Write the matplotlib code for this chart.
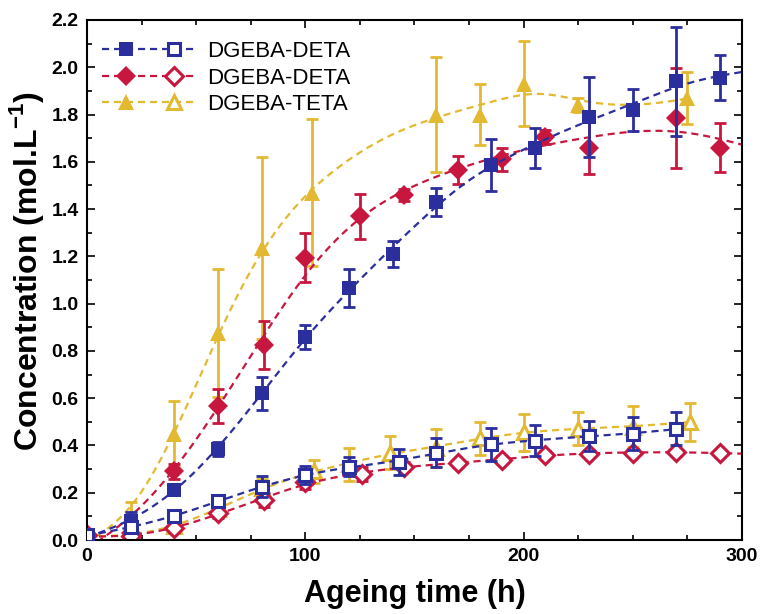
import numpy as np
import matplotlib
matplotlib.use("Agg")
import matplotlib.pyplot as plt
from matplotlib.lines import Line2D
from matplotlib.legend_handler import HandlerTuple
from matplotlib.ticker import MultipleLocator, FormatStrFormatter

plt.rcParams['font.family'] = ['Liberation Sans', 'DejaVu Sans']
plt.rcParams['mathtext.fontset'] = 'custom'
plt.rcParams['mathtext.rm'] = 'Liberation Sans'
plt.rcParams['mathtext.bf'] = 'Liberation Sans:bold'

# ---- data ----
labels = ["DGEBA-DETA", "DGEBA-DETA", "DGEBA-TETA"]

# filled blue squares
t_bf = [0, 20, 40, 60, 80, 100, 120, 140, 160, 185, 205, 230, 250, 270, 290]
c_bf = [0.02, 0.08, 0.21, 0.385, 0.62, 0.86, 1.065, 1.21, 1.43, 1.585, 1.66, 1.79, 1.82, 1.94, 1.955]
e_bf = [0.01, 0.04, 0.02, 0.03, 0.07, 0.05, 0.08, 0.055, 0.06, 0.11, 0.085, 0.17, 0.09, 0.23, 0.095]

# filled red diamonds
t_rf = [0, 20, 40, 60, 81, 100, 125, 145, 170, 190, 210, 230, 270, 290]
c_rf = [0.02, 0.03, 0.29, 0.567, 0.825, 1.195, 1.37, 1.46, 1.565, 1.61, 1.705, 1.66, 1.785, 1.66]
e_rf = [0.01, 0.01, 0.03, 0.07, 0.10, 0.105, 0.095, 0.025, 0.06, 0.05, 0.03, 0.11, 0.21, 0.105]

# filled yellow triangles
t_yf = [0, 20, 40, 60, 80, 103, 160, 180, 200, 225, 275]
c_yf = [0.02, 0.10, 0.45, 0.875, 1.235, 1.47, 1.80, 1.80, 1.93, 1.84, 1.87]
e_yf = [0.01, 0.06, 0.14, 0.27, 0.385, 0.31, 0.245, 0.13, 0.18, 0.03, 0.11]

# open blue squares
t_bo = [0, 20, 40, 60, 80, 100, 120, 143, 160, 185, 205, 230, 250, 270]
c_bo = [0.02, 0.055, 0.10, 0.165, 0.225, 0.275, 0.31, 0.33, 0.37, 0.405, 0.42, 0.44, 0.45, 0.47]
e_bo = [0.01, 0.02, 0.02, 0.02, 0.045, 0.04, 0.04, 0.055, 0.06, 0.07, 0.065, 0.065, 0.07, 0.07]

# open red diamonds
t_ro = [0, 20, 40, 60, 81, 100, 126, 145, 170, 190, 210, 230, 250, 270, 290]
c_ro = [0.02, 0.015, 0.05, 0.115, 0.17, 0.245, 0.28, 0.31, 0.325, 0.34, 0.36, 0.365, 0.37, 0.372, 0.367]
e_ro = [0.005, 0.01, 0.015, 0.02, 0.03, 0.03, 0.03, 0.02, 0.015, 0.015, 0.015, 0.015, 0.015, 0.015, 0.015]

# open yellow triangles
t_yo = [0, 20, 40, 60, 80, 104, 120, 139, 160, 180, 200, 225, 250, 276]
c_yo = [0.02, 0.02, 0.06, 0.13, 0.22, 0.29, 0.32, 0.37, 0.39, 0.43, 0.455, 0.47, 0.48, 0.50]
e_yo = [0.005, 0.01, 0.01, 0.02, 0.04, 0.05, 0.07, 0.07, 0.08, 0.07, 0.08, 0.07, 0.085, 0.08]

BLUE = "#2b2f9d"
RED = "#c8173f"
YEL = "#e3b932"


def bbase(x, xl, xr, nseg, deg=3):
    x = np.clip(np.asarray(x, float), xl, xr - 1e-9)[:, None]
    dx = (xr - xl) / nseg
    k = xl + dx * np.arange(-deg, nseg + deg + 1)
    B = ((x >= k[:-1]) & (x < k[1:])).astype(float)
    for d in range(1, deg + 1):
        left = (x - k[:-d - 1]) / (k[d:-1] - k[:-d - 1]) * B[:, :-1]
        right = (k[d + 1:] - x) / (k[d + 1:] - k[1:-d]) * B[:, 1:]
        B = left + right
    return B


def smooth_curve(t, c, xend, nseg=12, lam=0.06):
    t = np.asarray(t, float)
    c = np.asarray(c, float)
    B = bbase(t, 0, xend, nseg)
    m = B.shape[1]
    D = np.diff(np.eye(m), 2, axis=0)
    a = np.linalg.solve(B.T @ B + lam * D.T @ D, B.T @ c)
    xs = np.linspace(0, xend, 400)
    return xs, bbase(xs, 0, xend, nseg) @ a


fig = plt.figure(figsize=(7.61, 6.14), dpi=100)
ax = fig.add_axes([0.1143, 0.1205, 0.8607, 0.847])

series = [
    (t_yf, c_yf, e_yf, YEL, '^', True, 276, 1, 0.06),
    (t_yo, c_yo, e_yo, YEL, '^', False, 276, 1, 0.06),
    (t_rf, c_rf, e_rf, RED, 'D', True, 300, 2, 0.3),
    (t_ro, c_ro, e_ro, RED, 'D', False, 300, 2, 0.06),
    (t_bf, c_bf, e_bf, BLUE, 's', True, 300, 3, 0.06),
    (t_bo, c_bo, e_bo, BLUE, 's', False, 270, 3, 0.06),
]

msize = {'s': 10.5, 'D': 10.5, '^': 11.5}
DASH = (0, (3.2, 2.2))
for t, c, e, col, mk, filled, xend, z, lam in series:
    xs, ys = smooth_curve(t, c, xend, lam=lam)
    ax.plot(xs, ys, ls=DASH, color=col, lw=1.6, zorder=z)
    ax.errorbar(t, c, yerr=e, fmt='none', ecolor=col, elinewidth=2.0, capsize=4.5,
                capthick=2.0, zorder=z + 0.1)
    ax.plot(t, c, ls='none', marker=mk, ms=msize[mk] if filled else msize[mk] - 1.5,
            mfc=col if filled else 'white', mec=col, mew=0 if filled else 2.2, zorder=z + 0.2)

handles = []
for col, mk in [(BLUE, 's'), (RED, 'D'), (YEL, '^')]:
    h1 = Line2D([], [], ls=DASH, color=col, lw=1.6, marker=mk, ms=msize[mk], mfc=col, mec=col, mew=0)
    h2 = Line2D([], [], ls=DASH, color=col, lw=1.6, marker=mk, ms=msize[mk] - 1.5, mfc='white', mec=col, mew=2.2)
    handles.append((h1, h2))

ax.legend(handles, labels,
          handler_map={tuple: HandlerTuple(ndivide=None, pad=0)},
          loc='upper left', bbox_to_anchor=(-0.009, 1.0), frameon=False, fontsize=16,
          handlelength=4.3, handletextpad=0.4, labelspacing=0.25, numpoints=1,
          borderaxespad=0.45, borderpad=0.5)

ax.set_xlim(0, 300)
ax.set_ylim(0, 2.2)
ax.xaxis.set_major_locator(MultipleLocator(100))
ax.xaxis.set_minor_locator(MultipleLocator(25))
ax.yaxis.set_major_locator(MultipleLocator(0.2))
ax.yaxis.set_minor_locator(MultipleLocator(0.1))
ax.yaxis.set_major_formatter(FormatStrFormatter('%.1f'))
ax.tick_params(which='both', direction='in', top=True, right=True, width=1.2)
ax.tick_params(which='major', length=6, labelsize=14)
ax.tick_params(axis='y', which='major', pad=6)
ax.tick_params(axis='x', which='major', pad=6)
ax.tick_params(which='minor', length=3.5)
for lab in ax.get_xticklabels() + ax.get_yticklabels():
    lab.set_fontweight('bold')
for sp in ax.spines.values():
    sp.set_linewidth(1.5)

ax.set_xlabel('Ageing time (h)', fontsize=22, fontweight='bold')
ax.set_ylabel(r'Concentration (mol.L$^{\mathbf{-1}}$)', fontsize=23, fontweight='bold')
ax.xaxis.set_label_coords(0.5, -0.075)
ax.yaxis.set_label_coords(-0.062, 0.517)

fig.savefig('out.png', dpi=100)
